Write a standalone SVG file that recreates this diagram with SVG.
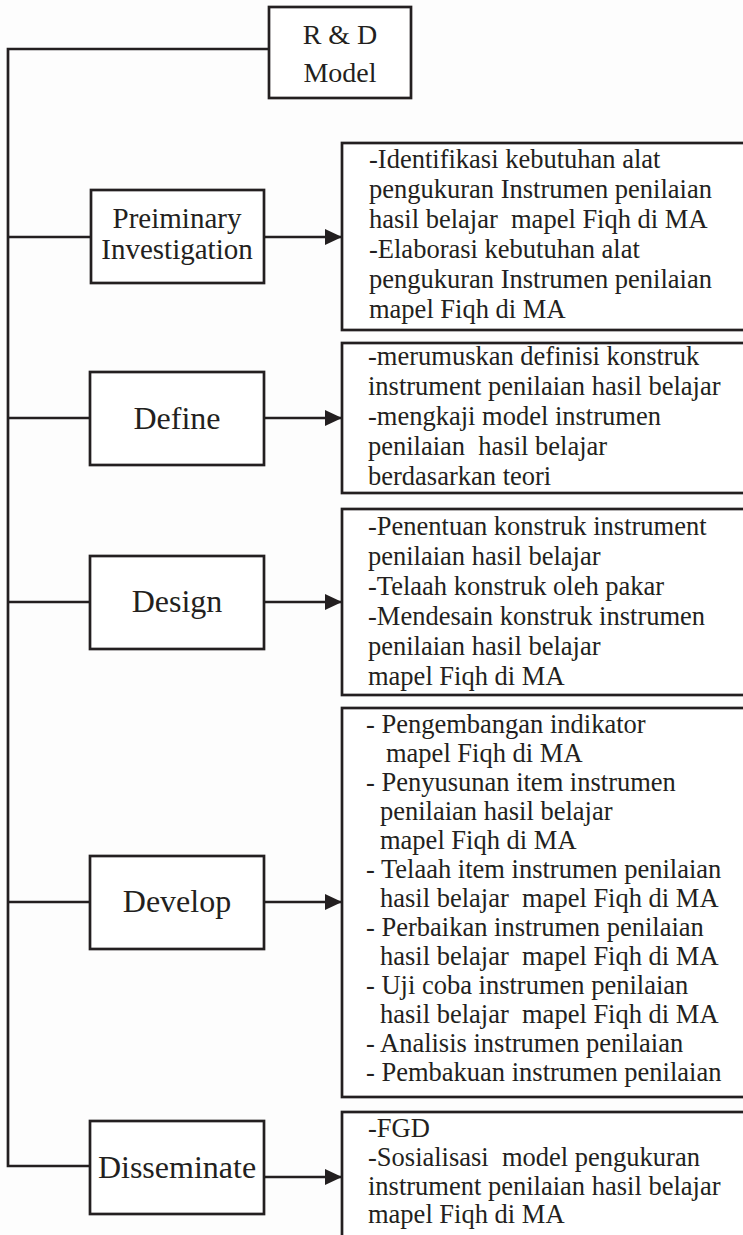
<svg xmlns="http://www.w3.org/2000/svg" width="743" height="1235" viewBox="0 0 743 1235">
<defs>
<style>
.box{fill:#fff;stroke:#231f20;stroke-width:2.7}
.ln{fill:none;stroke:#231f20;stroke-width:2.7}
.lbl{font-family:"Liberation Serif","Times New Roman",serif;font-size:32px;fill:#231f20;text-anchor:middle}
.t{font-family:"Liberation Serif","Times New Roman",serif;font-size:26.5px;fill:#231f20;white-space:pre}
</style>
<marker id="ah" markerUnits="userSpaceOnUse" markerWidth="18" markerHeight="16" refX="17" refY="8" orient="auto">
<path d="M0,0 L17,8 L0,16 Z" fill="#231f20"/>
</marker>
</defs>
<rect width="743" height="1235" fill="#fdfdfd"/>
<g id="connectors">
<polyline class="ln" points="269,49 8,49 8,1166 91,1166"/>
<line class="ln" x1="8" y1="237" x2="91" y2="237"/>
<line class="ln" x1="8" y1="418" x2="90" y2="418"/>
<line class="ln" x1="8" y1="602" x2="90" y2="602"/>
<line class="ln" x1="8" y1="902" x2="90" y2="902"/>
<line class="ln" x1="264" y1="237" x2="342" y2="237" marker-end="url(#ah)"/>
<line class="ln" x1="264" y1="418" x2="342" y2="418" marker-end="url(#ah)"/>
<line class="ln" x1="264" y1="602" x2="342" y2="602" marker-end="url(#ah)"/>
<line class="ln" x1="264" y1="902" x2="342" y2="902" marker-end="url(#ah)"/>
<line class="ln" x1="264" y1="1177" x2="342" y2="1177" marker-end="url(#ah)"/>
</g>
<g id="rd-model">
<rect class="box" x="269" y="7" width="142" height="91"/>
<text class="lbl" x="340" y="44" style="font-size:28px">R &amp; D</text>
<text class="lbl" x="340" y="82" style="font-size:28px">Model</text>
</g>
<g id="preliminary">
<rect class="box" x="91" y="190" width="173" height="93"/>
<text class="lbl" x="177" y="228" style="font-size:29px">Preiminary</text>
<text class="lbl" x="177" y="259" style="font-size:29px">Investigation</text>
</g>
<g id="define">
<rect class="box" x="90" y="372" width="174" height="93"/>
<text class="lbl" x="177" y="429">Define</text>
</g>
<g id="design">
<rect class="box" x="90" y="556" width="174" height="93"/>
<text class="lbl" x="177" y="612">Design</text>
</g>
<g id="develop">
<rect class="box" x="90" y="856" width="174" height="93"/>
<text class="lbl" x="177" y="912">Develop</text>
</g>
<g id="disseminate">
<rect class="box" x="90" y="1121" width="174" height="93"/>
<text class="lbl" x="177" y="1178">Disseminate</text>
</g>
<g id="preliminary-desc">
<rect class="box" x="342" y="143" width="410" height="187"/>
<text class="t" x="369" y="168">-Identifikasi kebutuhan alat</text>
<text class="t" x="369" y="198">pengukuran Instrumen penilaian</text>
<text class="t" x="369" y="228">hasil belajar  mapel Fiqh di MA</text>
<text class="t" x="369" y="258">-Elaborasi kebutuhan alat</text>
<text class="t" x="369" y="288">pengukuran Instrumen penilaian</text>
<text class="t" x="369" y="318">mapel Fiqh di MA</text>
</g>
<g id="define-desc">
<rect class="box" x="342" y="343" width="410" height="150"/>
<text class="t" x="368" y="365">-merumuskan definisi konstruk</text>
<text class="t" x="368" y="395">instrument penilaian hasil belajar</text>
<text class="t" x="368" y="425">-mengkaji model instrumen</text>
<text class="t" x="368" y="455">penilaian  hasil belajar</text>
<text class="t" x="368" y="485">berdasarkan teori</text>
</g>
<g id="design-desc">
<rect class="box" x="342" y="509" width="410" height="186"/>
<text class="t" x="368" y="535">-Penentuan konstruk instrument</text>
<text class="t" x="368" y="565">penilaian hasil belajar</text>
<text class="t" x="368" y="595">-Telaah konstruk oleh pakar</text>
<text class="t" x="368" y="625">-Mendesain konstruk instrumen</text>
<text class="t" x="368" y="655">penilaian hasil belajar</text>
<text class="t" x="368" y="685">mapel Fiqh di MA</text>
</g>
<g id="develop-desc">
<rect class="box" x="342" y="708" width="410" height="389"/>
<text class="t" x="366" y="733">- Pengembangan indikator</text>
<text class="t" x="386" y="762">mapel Fiqh di MA</text>
<text class="t" x="366" y="791">- Penyusunan item instrumen</text>
<text class="t" x="380" y="820">penilaian hasil belajar</text>
<text class="t" x="380" y="849">mapel Fiqh di MA</text>
<text class="t" x="366" y="878">- Telaah item instrumen penilaian</text>
<text class="t" x="380" y="907">hasil belajar  mapel Fiqh di MA</text>
<text class="t" x="366" y="936">- Perbaikan instrumen penilaian</text>
<text class="t" x="380" y="965">hasil belajar  mapel Fiqh di MA</text>
<text class="t" x="366" y="994">- Uji coba instrumen penilaian</text>
<text class="t" x="380" y="1023">hasil belajar  mapel Fiqh di MA</text>
<text class="t" x="366" y="1052">- Analisis instrumen penilaian</text>
<text class="t" x="366" y="1081">- Pembakuan instrumen penilaian</text>
</g>
<g id="disseminate-desc">
<rect class="box" x="342" y="1112" width="410" height="140"/>
<text class="t" x="368" y="1137">-FGD</text>
<text class="t" x="368" y="1166">-Sosialisasi  model pengukuran</text>
<text class="t" x="368" y="1195">instrument penilaian hasil belajar</text>
<text class="t" x="368" y="1223">mapel Fiqh di MA</text>
</g>
</svg>
